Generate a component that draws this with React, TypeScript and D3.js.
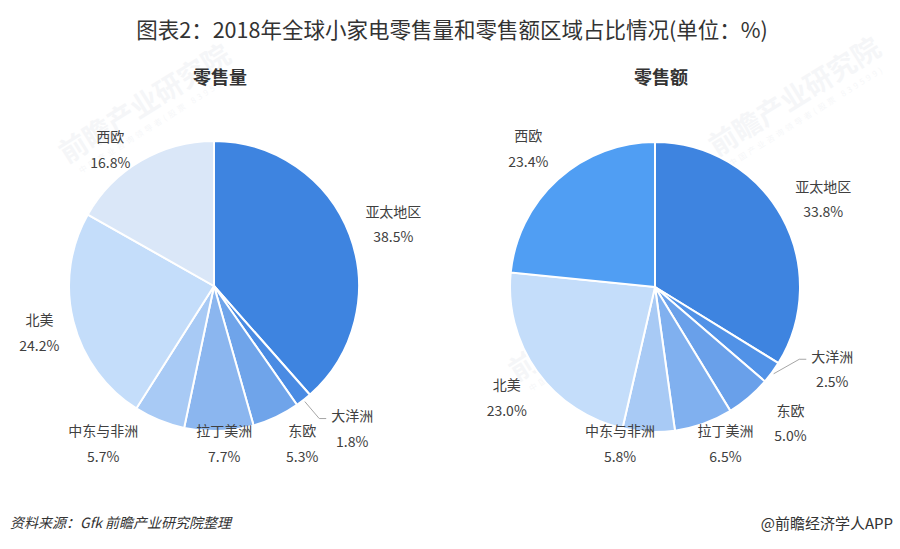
import React from "react";
import { pie, arc, PieArcDatum } from "d3";

// regions, clockwise from 12 o'clock
const regions = ["亚太地区", "大洋洲", "东欧", "拉丁美洲", "中东与非洲", "北美", "西欧"];
const volumeShare = [38.5, 1.8, 5.3, 7.7, 5.7, 24.2, 16.8];
const valueShare = [33.8, 2.5, 5.0, 6.5, 5.8, 23.0, 23.4];

const volumeColors = ["#3e84e0", "#4a8be3", "#6fa4ea", "#8bb6ef", "#a8caf5", "#c4ddfa", "#dae7f8"];
const valueColors = ["#3e84e0", "#5192e7", "#69a0ea", "#80b0ef", "#a8caf5", "#c4ddfa", "#509ef3"];

const W = 900;
const H = 549;
const R = 145;
const LABEL_R = 180;
const FONT = "'Noto Sans CJK SC', 'Noto Sans', sans-serif";

// label nudges (px) from the outer label ring, per slice
const volumeNudge = [[11, 1], [27, 0], [11, -6], [4, -23], [-43, -10], [0, 2], [-13, 18]];
const valueNudge = [[11, -1], [32, -25], [19, -2], [10, -14], [-27, -24], [-2, 5], [-6, -6]];
const leaderSlices = ["大洋洲"];

type Row = { name: string; value: number; color: string };

const PieChart = ({
  cx,
  cy,
  title,
  values,
  colors,
  nudge,
}: {
  cx: number;
  cy: number;
  title: string;
  values: number[];
  colors: string[];
  nudge: number[][];
}) => {
  const rows: Row[] = regions.map((name, i) => ({ name, value: values[i], color: colors[i] }));
  const arcs = pie<Row>().sort(null).value((d) => d.value)(rows);
  const slice = arc<PieArcDatum<Row>>().innerRadius(0).outerRadius(R);

  return (
    <g>
      <text
        x={cx + 6}
        y={76}
        textAnchor="middle"
        dominantBaseline="central"
        fontSize={18}
        fontWeight="bold"
        fill="#333"
      >
        {title}
      </text>
      <g transform={`translate(${cx},${cy})`}>
        {arcs.map((a) => (
          <path key={a.data.name} d={slice(a) || ""} fill={a.data.color} stroke="#fff" strokeWidth={2} />
        ))}
        {arcs.map((a, i) => {
          const mid = (a.startAngle + a.endAngle) / 2;
          const lx = LABEL_R * Math.sin(mid) + nudge[i][0];
          const ly = -LABEL_R * Math.cos(mid) + nudge[i][1];
          const hasLeader = leaderSlices.includes(a.data.name);
          const left = lx - 21;
          return (
            <g key={"l" + a.data.name}>
              {hasLeader && (
                <polyline
                  points={[
                    [(R + 2) * Math.sin(mid), -(R + 2) * Math.cos(mid)],
                    [left - 12, ly - 9],
                    [left - 5, ly - 9],
                  ]
                    .map((p) => p.join(","))
                    .join(" ")}
                  fill="none"
                  stroke="#a6a6a6"
                  strokeWidth={1}
                />
              )}
              <text x={lx} y={ly - 12.5} textAnchor="middle" dominantBaseline="central" fontSize={14} fill="#404040">
                {a.data.name}
              </text>
              <text x={lx} y={ly + 13} textAnchor="middle" dominantBaseline="central" fontSize={14} fill="#404040">
                {a.data.value.toFixed(1)}%
              </text>
            </g>
          );
        })}
      </g>
    </g>
  );
};

// faint publisher watermarks
const watermarks = [
  [150, 112],
  [225, 330],
  [600, 330],
  [800, 105],
];

export default function App() {
  return (
    <svg
      width={W}
      height={H}
      style={{ position: "absolute", left: 0, top: 0, background: "#fff" }}
      fontFamily={FONT}
    >
      <rect width={W} height={H} fill="#fff" />
      {watermarks.map(([x, y], i) => (
        <g key={i} transform={`translate(${x},${y}) rotate(-32)`} opacity={0.07}>
          <text textAnchor="middle" fontSize={28} fontWeight="bold" fill="#7d8ea6">
            前瞻产业研究院
          </text>
          <text y={16} textAnchor="middle" fontSize={8} fill="#7d8ea6" letterSpacing={3}>
            中国产业咨询领导者(股票 839599)
          </text>
        </g>
      ))}
      <text x={452} y={28} textAnchor="middle" dominantBaseline="central" fontSize={21.5} fill="#333">
        图表2：2018年全球小家电零售量和零售额区域占比情况(单位：%)
      </text>
      <PieChart cx={214} cy={286} title="零售量" values={volumeShare} colors={volumeColors} nudge={volumeNudge} />
      <PieChart cx={655} cy={287} title="零售额" values={valueShare} colors={valueColors} nudge={valueNudge} />
      <text x={10} y={522} dominantBaseline="central" fontSize={14} fontStyle="italic" fill="#333">
        资料来源：Gfk 前瞻产业研究院整理
      </text>
      <text x={893} y={522} textAnchor="end" dominantBaseline="central" fontSize={15} fill="#333">
        @前瞻经济学人APP
      </text>
    </svg>
  );
}
